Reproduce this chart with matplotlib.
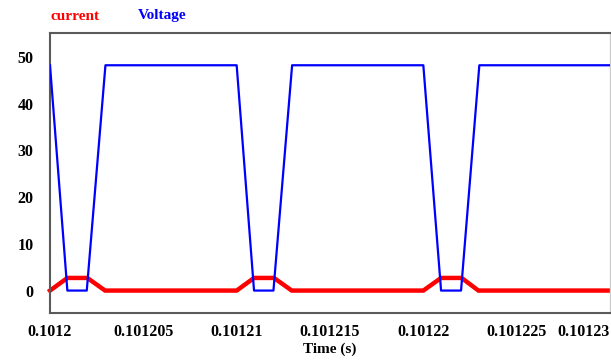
import matplotlib.pyplot as plt
import numpy as np

# time points in microseconds after 0.1012 s
volt_t_us = [0, 0.93, 1.97, 2.97, 10.0, 10.93, 11.97, 12.97, 20.0, 20.95, 22.02, 23.0, 30.0]
volt_v = [48.2, 0, 0, 48.2, 48.2, 0, 0, 48.2, 48.2, 0, 0, 48.2, 48.2]

curr_t_us = [0, 0.93, 2.0, 2.95, 10.0, 10.93, 12.0, 12.95, 20.0, 20.95, 22.05, 22.95, 30.0]
curr_i = [0, 2.7, 2.7, 0, 0, 2.7, 2.7, 0, 0, 2.7, 2.7, 0, 0]

t0 = 0.1012
xticks = [0.1012, 0.101205, 0.10121, 0.101215, 0.10122, 0.101225, 0.10123]
xtick_labels = ['0.1012', '0.101205', '0.10121', '0.101215', '0.10122', '0.101225', '0.10123']
yticks = [0, 10, 20, 30, 40, 50]

plt.rcParams['font.family'] = ['Liberation Serif', 'DejaVu Serif']
plt.rcParams['font.weight'] = 'bold'

fig = plt.figure(figsize=(6.11, 3.60), dpi=100)
ax = fig.add_axes([50/611, 47/360, 560/611, 280/360])

vt = t0 + np.array(volt_t_us) * 1e-6
ct = t0 + np.array(curr_t_us) * 1e-6

ax.plot(ct, curr_i, color='#ff0000', lw=3.2, solid_joinstyle='miter', clip_on=False, zorder=2)
ax.plot(vt, volt_v, color='#0000ff', lw=1.6, zorder=3)

ax.set_xlim(0.1012, 0.10123)
ax.set_ylim(-4.8, 55.1)
ax.set_xticks(xticks)
ax.set_xticklabels(xtick_labels, fontsize=11.5, fontweight='bold')
ax.set_yticks(yticks)
ax.set_yticklabels([str(v) for v in yticks], fontsize=11.5, fontweight='bold')
ax.get_xticklabels()[-1].set_ha('right')
ax.tick_params(length=0)
ax.tick_params(axis='x', pad=8)
ax.tick_params(axis='y', pad=12)

for s in ['left', 'top', 'bottom']:
    ax.spines[s].set_color('#5a5a5a')
    ax.spines[s].set_linewidth(1.5)
ax.spines['right'].set_color('#cccccc')
ax.spines['right'].set_linewidth(1.0)

ax.set_xlabel('Time (s)', fontsize=11, fontweight='bold', labelpad=2)

fig.text(50/611, 1 - 16/360, 'current', color='#ff0000', fontsize=11,
         fontweight='bold', va='center', ha='left')
fig.text(138/611, 1 - 16/360, 'Voltage', color='#0000ff', fontsize=11,
         fontweight='bold', va='center', ha='left')

fig.savefig('out.png', dpi=100)
